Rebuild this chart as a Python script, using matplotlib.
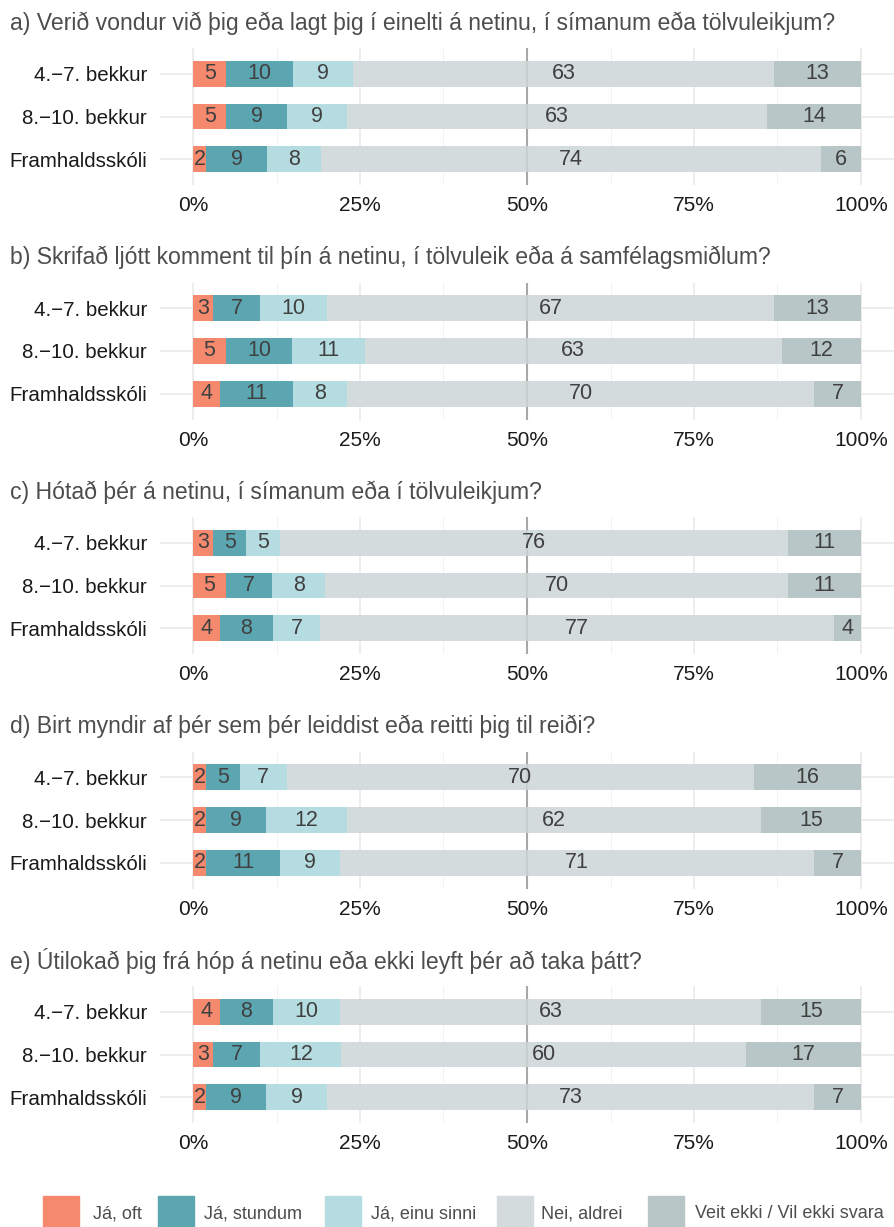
import numpy as np
import matplotlib
matplotlib.use('Agg')
import matplotlib.pyplot as plt
from matplotlib.patches import Rectangle

# Question titles (one panel each)
titles = [
    'a) Verið vondur við þig eða lagt þig í einelti á netinu, í símanum eða tölvuleikjum?',
    'b) Skrifað ljótt komment til þín á netinu, í tölvuleik eða á samfélagsmiðlum?',
    'c) Hótað þér á netinu, í símanum eða í tölvuleikjum?',
    'd) Birt myndir af þér sem þér leiddist eða reitti þig til reiði?',
    'e) Útilokað þig frá hóp á netinu eða ekki leyft þér að taka þátt?',
]
groups = ['4.\u22127. bekkur', '8.\u221210. bekkur', 'Framhaldsskóli']
answers = ['Já, oft', 'Já, stundum', 'Já, einu sinni', 'Nei, aldrei',
           'Veit ekki / Vil ekki svara']
colors = ['#F5896E', '#5CA6B2', '#B5DCE1', '#D3DBDC', '#B8C6C7']

# percentages per panel: rows = groups, cols = answers
q_a = [[5, 10, 9, 63, 13], [5, 9, 9, 63, 14], [2, 9, 8, 74, 6]]
q_b = [[3, 7, 10, 67, 13], [5, 10, 11, 63, 12], [4, 11, 8, 70, 7]]
q_c = [[3, 5, 5, 76, 11], [5, 7, 8, 70, 11], [4, 8, 7, 77, 4]]
q_d = [[2, 5, 7, 70, 16], [2, 9, 12, 62, 15], [2, 11, 9, 71, 7]]
q_e = [[4, 8, 10, 63, 15], [3, 7, 12, 60, 17], [2, 9, 9, 73, 7]]
panels = [q_a, q_b, q_c, q_d, q_e]

FONT = ['Liberation Sans', 'DejaVu Sans']


def main():
    plt.rcParams['font.family'] = FONT
    W, H = 894, 1227
    fig = plt.figure(figsize=(W / 100, H / 100), dpi=100)

    ax_left, ax_right = 159.6, 894.4
    pitch = 234.5
    for i, (title, vals) in enumerate(zip(titles, panels)):
        top = 48 + pitch * i
        bottom = 185 + pitch * i
        ax = fig.add_axes([ax_left / W, 1 - bottom / H,
                           (ax_right - ax_left) / W, (bottom - top) / H])
        fig.text(10 / W, 1 - (23 + pitch * i) / H, title, fontsize=16.6,
                 color='#4d4d4d', va='center', ha='left')

        vals = np.array(vals, dtype=float)
        pct = vals / vals.sum(axis=1, keepdims=True) * 100
        y = np.arange(len(groups))
        left = np.zeros(len(groups))
        for j in range(len(answers)):
            ax.barh(y, pct[:, j], left=left, height=0.6, color=colors[j],
                    zorder=2)
            for k in range(len(groups)):
                ax.text(left[k] + pct[k, j] / 2, y[k], '%d' % vals[k, j],
                        ha='center', va='center', fontsize=15.5,
                        color='#404040', zorder=3)
            left += pct[:, j]

        ax.set_xlim(-5, 105)
        ax.set_ylim(2.6, -0.6)
        ax.set_xticks([0, 25, 50, 75, 100])
        ax.set_xticklabels(['0%', '25%', '50%', '75%', '100%'])
        ax.set_xticks([12.5, 37.5, 62.5, 87.5], minor=True)
        ax.set_yticks(y)
        ax.set_yticklabels(groups)
        ax.tick_params(axis='x', length=0, labelsize=15, colors='#1a1a1a',
                       pad=8)
        ax.tick_params(axis='y', length=0, labelsize=14.8, colors='#1a1a1a',
                       pad=9)
        ax.tick_params(which='minor', length=0)
        ax.grid(True, which='major', color='#e8e8e8', lw=1.1, zorder=0)
        ax.grid(True, which='minor', axis='x', color='#f0f0f0', lw=0.6,
                zorder=0)
        ax.set_axisbelow(True)
        ax.axvline(50, color='#a8a8a8', lw=1.5, zorder=1)
        ax.axvline(50, color='#a8a8a8', lw=1.5, alpha=0.25, zorder=2.5)
        for s in ax.spines.values():
            s.set_visible(False)

    # legend along the bottom
    key_x = [43, 158, 325, 497, 648]
    text_x = [93, 204, 371, 541, 695]
    for c, lab, kx, tx in zip(colors, answers, key_x, text_x):
        fig.patches.append(Rectangle((kx / W, 1 - 1232 / H), 36 / W, 36 / H,
                                     transform=fig.transFigure, color=c))
        fig.text(tx / W, 1 - 1214 / H, lab, fontsize=13, color='#4d4d4d',
                 va='center', ha='left')

    fig.savefig('out.png', dpi=100, facecolor='white')


if __name__ == "__main__":
    main()
